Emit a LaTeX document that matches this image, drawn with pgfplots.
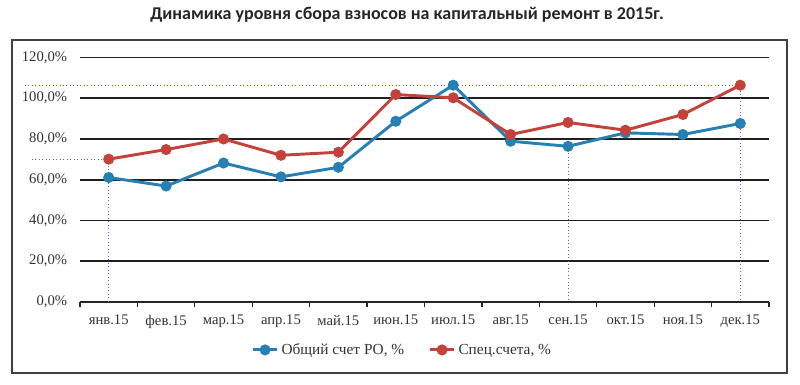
\documentclass[border=0pt]{standalone}
\usepackage{fontspec}
\setmainfont{Liberation Serif}
\newfontfamily\titlefont{Carlito}
\usepackage{pgfplots}
\pgfplotsset{compat=1.18}
\definecolor{cblue}{RGB}{38,128,180}
\definecolor{cred}{RGB}{196,66,60}
\definecolor{cviol}{RGB}{120,80,230}
\begin{document}
\begin{tikzpicture}
\useasboundingbox (-60pt,-62.25pt) rectangle (540pt,226.5pt);
\draw[line width=1.1pt, black!75] (-51pt,-53.25pt) rectangle (530.25pt,196.5pt);
\node[font=\titlefont\bfseries\fontsize{13.5}{15}\selectfont, text=black!85] at (245.25pt,215.25pt) {Динамика уровня сбора взносов на капитальный ремонт в 2015г.};
\begin{axis}[
  at={(0,0)}, anchor=south west,
  scale only axis, width=516.75pt, height=183.4pt,
  xmin=-0.5, xmax=11.5, ymin=0, ymax=120,
  clip=false,
  axis lines=left,
  y axis line style={draw=none},
  x axis line style={-, line width=1.3pt, black!85},
  xtick={0,...,11},
  xticklabels={янв.15,фев.15,мар.15,апр.15,май.15,июн.15,июл.15,авг.15,сен.15,окт.15,ноя.15,дек.15},
  major x tick style={draw=none},
  minor xtick={-0.5,0.5,...,11.5},
  minor x tick style={line width=0.9pt, black!85},
  xtick align=outside,
  minor tick length=4pt,
  ytick={0,20,...,120},
  ytick style={draw=none},
  ymajorgrids,
  grid style={line width=1.3pt, black!88},
  /pgf/number format/assume math mode=true,
  yticklabel={\pgfmathprintnumber[fixed,fixed zerofill,precision=1,use comma]{\tick}\%},
  tick label style={font=\fontsize{11}{12}\selectfont, text=black!80},
  xticklabel style={yshift=-2pt},
  yticklabel style={xshift=-4pt},
  legend columns=2,
  legend style={at={(0.468,-0.196)}, anchor=center, draw=none, fill=none,
    font=\fontsize{11.5}{13}\selectfont, text=black!80,
    /tikz/every even column/.append style={column sep=16pt}},
  legend cell align=left,
  legend image code/.code={
    \draw[#1] (0cm,0cm) -- (0.65cm,0cm);
    \draw[#1, mark repeat=2, mark phase=2] plot coordinates {(0cm,0cm) (0.325cm,0cm) (0.65cm,0cm)};
  },
]
\addplot[cviol, dotted, line width=0.6pt, forget plot] coordinates {(-1.46,106.4) (11,106.4) (11,0)};
\addplot[cviol, dotted, line width=0.6pt, forget plot] coordinates {(-1.336,70.1) (0,70.1) (0,0)};
\addplot[cviol, dotted, line width=0.6pt, forget plot] coordinates {(8,76.4) (8,0)};
\addplot[cblue, line width=2.2pt, mark=*, mark size=3pt, mark options={solid, fill=cblue}] coordinates {
(0,61.1) (1,56.9) (2,68.2) (3,61.4) (4,66.1) (5,88.7) (6,106.4) (7,78.9) (8,76.4) (9,83.0) (10,82.2) (11,87.6)};
\addlegendentry{Общий счет РО, \%}
\addplot[cred, line width=2.2pt, mark=*, mark size=3pt, mark options={solid, fill=cred}] coordinates {
(0,70.1) (1,74.8) (2,80.0) (3,72.0) (4,73.5) (5,101.8) (6,100.2) (7,82.2) (8,88.1) (9,84.3) (10,92.0) (11,106.4)};
\addlegendentry{Спец.счета, \%}
\end{axis}
\end{tikzpicture}
\end{document}
